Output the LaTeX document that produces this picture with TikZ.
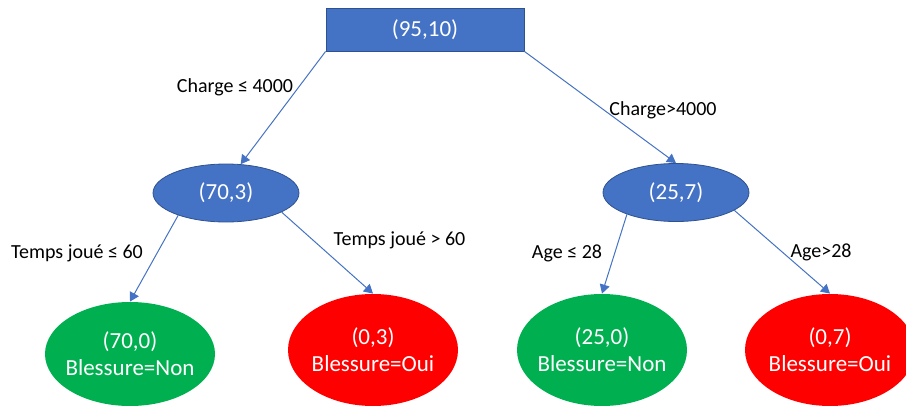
\documentclass[tikz,border=0pt]{standalone}
\usepackage{fontspec}
\setmainfont{Carlito}
\usepackage{tikz}
\usetikzlibrary{shapes.geometric, arrows.meta}
\definecolor{custom_blue}{HTML}{4472C4}
\definecolor{custom_darkblue}{HTML}{2F528F}
\definecolor{custom_green}{HTML}{00B050}
\definecolor{custom_red}{HTML}{FF0000}

\begin{document}
\begin{tikzpicture}[x=0.5pt, y=-0.5pt,
        split/.style={ellipse, draw=custom_darkblue, fill=custom_blue, text=white, font=\fontsize{11.5}{13.5}\selectfont, minimum width=73pt, minimum height=29pt, inner sep=0pt},
        leaf/.style={ellipse, text=white, align=center, font=\fontsize{11.5}{13.5}\selectfont, minimum width=85pt, minimum height=56pt, inner xsep=-3pt, inner ysep=0pt},
        branch/.style={custom_blue, line width=0.5pt, -{Triangle[length=4.5pt, width=5pt]}},
        cond/.style={font=\fontsize{10}{12}\selectfont}]
    \useasboundingbox (0,0) rectangle (906,407);
    \node[rectangle, draw=custom_darkblue, fill=custom_blue, text=white, font=\fontsize{11.5}{13.5}\selectfont, minimum width=99pt, minimum height=21.5pt, inner sep=0pt] (root) at (425,29.5) {(95,10)};
    \node[split] (n703) at (226,193) {(70,3)};
    \node[split] (n257) at (676,192.5) {(25,7)};
    \node[leaf, fill=custom_green, minimum height=52pt] (n700) at (130,354) {(70,0)\\Blessure=Non};
    \node[leaf, fill=custom_red] (n03) at (373,350) {(0,3)\\Blessure=Oui};
    \node[leaf, fill=custom_green] (n250) at (602,350) {(25,0)\\Blessure=Non};
    \node[leaf, fill=custom_red] (n07) at (830,350) {(0,7)\\Blessure=Oui};

    \draw[branch] (root.south west) -- (n703.63);
    \draw[branch] (root.south east) -- (n257.north);
    \draw[branch] (n703.205) -- (n700.north);
    \draw[branch] (n703.341) -- (n03.north);
    \draw[branch] (n257.204) -- (n250.north);
    \draw[branch] (n257.343) -- (n07.north);

    \node[cond] (c_root_l) at (235,87) {Charge ≤ 4000};
    \node[cond] (c_root_r) at (663,110) {Charge>4000};
    \node[cond] (c_703_l) at (77,253) {Temps joué ≤ 60};
    \node[cond] (c_703_r) at (399.5,240) {Temps joué > 60};
    \node[cond] (c_257_l) at (567,253) {Age ≤ 28};
    \node[cond] (c_257_r) at (821,252) {Age>28};
\end{tikzpicture}
\end{document}
